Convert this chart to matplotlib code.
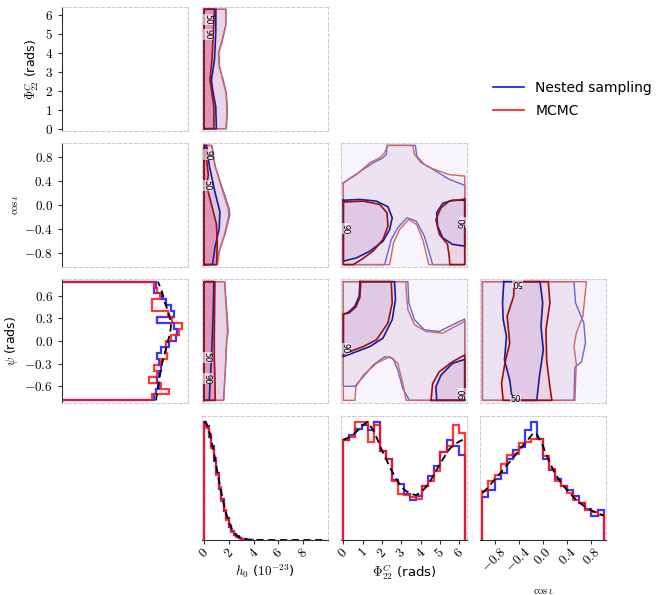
import numpy as np
import matplotlib.pyplot as plt
from matplotlib.lines import Line2D
from matplotlib.ticker import FixedLocator, FuncFormatter

plt.rcParams['mathtext.fontset'] = 'cm'
plt.rcParams['font.family'] = ['DejaVu Sans']

# axis ranges (small padding round the prior ranges)
h0_lim = (-0.16, 10.0)
phi_lim = (-0.12, 6.40)
cos_lim = (-1.04, 1.04)
psi_lim = (-0.82, 0.82)

h0_ticks = [0, 2, 4, 6, 8]
phi_ticks = [0, 1, 2, 3, 4, 5, 6]
cos_ticks = [-0.8, -0.4, 0.0, 0.4, 0.8]
psi_ticks = [-0.6, -0.3, 0.0, 0.3, 0.6]

# ---- 1D marginals (arbitrary density units) ----
h0_edges = np.linspace(0.0, 4.0, 21)
h0_blue = [350, 338, 305, 280, 233, 200, 152, 122, 85, 64, 40, 28, 16, 11, 6, 3, 2, 1, 0.5, 0.2]
h0_red = [346, 333, 313, 272, 242, 193, 158, 116, 90, 60, 44, 25, 18, 10, 6.5, 4, 1.5, 1, 0.4, 0.3]
h0_line_x = [0, 0.25, 0.5, 0.75, 1.0, 1.25, 1.5, 1.75, 2.0, 2.25, 2.5, 2.75, 3.0, 3.5, 4.0, 5, 6, 7, 8, 9, 9.9]
h0_line_y = [352, 342, 312, 268, 218, 168, 122, 83, 54, 33, 19, 10, 5.5, 1.5, 0.4, 0, 0, 0, 0, 0, 0]

phi_edges = np.linspace(0.0, 2 * np.pi, 21)
phi_blue = [297, 310, 330, 340, 325, 350, 265, 240, 177, 167, 137, 120, 130, 160, 190, 220, 260, 295, 280, 252]
phi_red = [297, 305, 350, 350, 290, 340, 265, 240, 175, 135, 132, 127, 122, 160, 175, 205, 260, 278, 340, 317]
phi_line_x = [0, 0.25, 0.5, 0.75, 1.0, 1.25, 1.5, 1.75, 2.0, 2.25, 2.5, 2.75, 3.0, 3.25, 3.5, 3.75,
              4.0, 4.25, 4.5, 4.75, 5.0, 5.25, 5.5, 5.75, 6.0, 6.283]
phi_line_y = [297, 303, 312, 325, 340, 350, 330, 300, 265, 235, 205, 180, 157, 145, 137, 133,
              140, 155, 175, 200, 225, 248, 270, 283, 292, 300]

cos_edges = np.linspace(-1.0, 1.0, 21)
cos_blue = [127, 148, 182, 200, 240, 268, 277, 327, 352, 300, 240, 208, 182, 160, 150, 132, 110, 92, 73, 90]
cos_red = [145, 177, 195, 228, 252, 255, 290, 292, 300, 300, 250, 212, 175, 160, 140, 120, 110, 90, 82, 75]
cos_line_x = [-1, -0.9, -0.8, -0.7, -0.6, -0.5, -0.4, -0.3, -0.2, -0.15, -0.1, 0, 0.1, 0.2, 0.3,
              0.4, 0.5, 0.6, 0.7, 0.8, 0.9, 1.0]
cos_line_y = [140, 158, 180, 200, 222, 243, 266, 288, 310, 320, 315, 280, 235, 198, 170,
              148, 128, 112, 98, 88, 80, 73]

psi_edges = np.linspace(-np.pi / 4, np.pi / 4, 21)
psi_blue = [92, 94, 97, 95, 97, 99, 97, 95, 99, 107, 114, 115, 112, 95, 112, 109, 104, 100, 92, 94]
psi_red = [90, 107, 99, 87, 95, 92, 99, 105, 104, 104, 109, 117, 120, 110, 106, 90, 90, 98, 95, 92]
psi_line_x = [94, 96, 98, 100, 103, 106, 108, 109, 108, 106, 103, 100, 96]
psi_line_y = [-0.785, -0.6, -0.45, -0.3, -0.15, 0, 0.1, 0.2, 0.3, 0.4, 0.5, 0.65, 0.785]

# ---- 2D credible contours (90% outer, 50% inner) ----
# h0 panels: h0 value of the contour edge along the other parameter
hp_out_phi = [0, 0.97, 1.86, 2.57, 3.28, 4.0, 4.53, 5.42, 6.283]
hp_blue_out = [1.81, 1.89, 1.81, 1.55, 1.23, 1.17, 1.41, 1.76, 1.76]
hp_red_out = [1.78, 1.85, 1.78, 1.5, 1.25, 1.2, 1.45, 1.75, 1.78]
hp_in_phi = [0, 1.15, 2.04, 2.57, 3.64, 5.06, 6.283]
hp_blue_in = [1.0, 0.95, 0.7, 0.6, 0.85, 0.95, 0.96]
hp_red_in = [0.8, 0.8, 0.6, 0.48, 0.65, 0.75, 0.85]

hc_out_cos = [-1, -0.77, -0.5, -0.17, -0.06, 0.33, 0.66, 1.0]
hc_blue_out = [1.05, 1.23, 1.68, 2.08, 2.03, 1.41, 0.88, 0.61]
hc_red_out = [1.1, 1.25, 1.65, 2.0, 1.95, 1.35, 0.9, 0.65]
hc_blue_in_cos = [-1, -0.72, -0.39, -0.11, 0.22, 0.66, 1.0]
hc_blue_in = [0.69, 0.88, 1.23, 1.28, 0.88, 0.43, 0.21]
hc_red_in_cos = [-1, -0.66, -0.33, -0.11, 0.11, 0.33, 0.5, 0.66, 1.0]
hc_red_in = [1.01, 1.07, 1.01, 0.75, 0.48, 0.21, 0.35, 0.27, 0.08]

hs_out_psi = [-0.785, -0.37, 0.0, 0.13, 0.46, 0.785]
hs_blue_out = [1.57, 1.73, 1.84, 1.95, 1.81, 1.68]
hs_red_out = [1.6, 1.72, 1.82, 1.9, 1.78, 1.65]
hs_in_psi = [-0.785, -0.5, -0.2, 0.06, 0.41, 0.785]
hs_blue_in = [0.43, 0.51, 0.61, 0.67, 0.75, 0.8]
hs_red_in = [0.91, 0.88, 0.83, 0.83, 0.85, 0.88]

# phi - cos(iota) panel
pc_blue_out_x = [0, 0.51, 1.03, 1.54, 1.97, 2.23, 2.26, 3.73, 3.80, 4.19, 4.79, 5.48, 6.283, 6.283,
                 4.62, 4.45, 4.19, 3.77, 3.29, 2.82, 2.48, 2.14, 0, 0]
pc_blue_out_y = [0.373, 0.485, 0.596, 0.709, 0.776, 0.849, 1.0, 1.0, 0.82, 0.68, 0.57, 0.43, 0.33, -1,
                 -1, -0.80, -0.52, -0.27, -0.215, -0.38, -0.58, -1, -1, 0.373]
pc_red_out_x = [0, 0.68, 1.37, 1.88, 2.14, 2.3, 3.6, 3.68, 4.02, 4.62, 5.48, 6.283, 6.283,
                4.42, 4.28, 4.11, 3.80, 3.39, 2.91, 2.60, 2.40, 0, 0]
pc_red_out_y = [0.37, 0.51, 0.71, 0.79, 0.88, 1.0, 1.0, 0.85, 0.71, 0.61, 0.51, 0.485, -1,
                -1, -0.80, -0.58, -0.33, -0.24, -0.41, -0.635, -1, -1, 0.37]
pc_blue_in1_x = [0, 0.86, 1.71, 2.31, 2.53, 2.40, 2.05, 1.37, 0.68, 0, 0]
pc_blue_in1_y = [0.08, 0.093, 0.065, -0.03, -0.215, -0.41, -0.61, -0.775, -0.887, -0.943, 0.08]
pc_red_in1_x = [0, 1.03, 1.88, 2.26, 2.31, 2.05, 1.54, 0.94, 0.51, 0, 0]
pc_red_in1_y = [0.05, 0.065, 0.01, -0.13, -0.355, -0.58, -0.775, -0.915, -1, -1, 0.05]
pc_blue_in2_x = [6.283, 5.65, 5.14, 4.83, 4.88, 5.14, 5.65, 6.283, 6.283]
pc_blue_in2_y = [0.08, 0.08, 0.026, -0.13, -0.355, -0.55, -0.66, -0.69, 0.08]
pc_red_in2_x = [6.283, 5.48, 5.05, 4.79, 4.97, 5.39, 5.48, 5.51, 6.283, 6.283]
pc_red_in2_y = [0.10, 0.065, -0.05, -0.245, -0.495, -0.66, -0.86, -1, -1, 0.10]

# phi - psi panel
pp_blue_out_x = [0, 3.34, 3.39, 3.68, 4.19, 4.96, 5.65, 6.283, 6.283, 3.42, 3.08, 2.82, 2.57, 2.14,
                 1.54, 1.03, 0.6, 0, 0]
pp_blue_out_y = [0.785, 0.785, 0.505, 0.282, 0.149, 0.126, 0.215, 0.291, -0.785, -0.785, -0.63,
                 -0.385, -0.23, -0.207, -0.319, -0.474, -0.599, -0.599, 0.785]
pp_red_out_x = [0, 3.22, 3.34, 3.68, 4.28, 5.14, 6.283, 6.283, 3.25, 3.08, 2.82, 2.40, 1.71, 1.03,
                0.65, 0.6, 0, 0]
pp_red_out_y = [0.785, 0.785, 0.416, 0.215, 0.126, 0.104, 0.26, -0.785, -0.785, -0.563, -0.296,
                -0.207, -0.296, -0.452, -0.608, -0.785, -0.785, 0.785]
pp_blue_in1_x = [0.86, 0.82, 0.6, 0.26, 0, 0, 0.68, 1.37, 2.05, 2.53, 2.70, 2.65, 0.86]
pp_blue_in1_y = [0.785, 0.594, 0.46, 0.38, 0.349, -0.207, -0.141, -0.074, 0.037, 0.282, 0.549, 0.785, 0.785]
pp_red_in1_x = [0.9, 0.86, 0.65, 0.3, 0, 0, 1.03, 1.71, 2.31, 2.53, 2.48, 0.9]
pp_red_in1_y = [0.785, 0.58, 0.45, 0.37, 0.36, -0.172, -0.074, 0.015, 0.238, 0.505, 0.785, 0.785]
pp_blue_in2_x = [4.83, 4.79, 5.05, 5.65, 6.283, 6.283, 4.83]
pp_blue_in2_y = [-0.785, -0.608, -0.452, -0.296, -0.243, -0.785, -0.785]
pp_red_in2_x = [4.54, 4.62, 4.96, 5.65, 6.283, 6.283, 4.54]
pp_red_in2_y = [-0.785, -0.563, -0.408, -0.274, -0.185, -0.785, -0.785]

# cos(iota) - psi panel
cp_blue_out_x = [-1, 0.511, 0.538, 0.674, 0.701, 0.636, 0.527, 0.511, -1, -1]
cp_blue_out_y = [0.785, 0.785, 0.505, 0.238, -0.029, -0.274, -0.35, -0.785, -0.785, 0.785]
cp_red_out_x = [-1, 0.717, 0.658, 0.549, 0.511, 0.549, 0.527, -1, -1]
cp_red_out_y = [0.785, 0.785, 0.327, 0.104, -0.074, -0.296, -0.785, -0.785, 0.785]
cp_blue_in_x = [-0.647, -0.668, -0.657, -0.603, -0.636, -0.549, -0.505, -0.103, -0.06, 0.005,
                -0.033, -0.005, -0.049, -0.647]
cp_blue_in_y = [0.785, 0.505, 0.282, 0.06, -0.252, -0.519, -0.785, -0.785, -0.474, -0.118,
                0.193, 0.505, 0.785, 0.785]
cp_red_in_x = [-0.478, -0.484, -0.592, -0.549, -0.630, -0.685, -0.658, 0.147, 0.114, 0.06,
               0.049, 0.114, 0.087, -0.478]
cp_red_in_y = [0.785, 0.594, 0.327, -0.029, -0.296, -0.563, -0.785, -0.785, -0.608, -0.252,
               0.149, 0.505, 0.785, 0.785]

BLUE, RED = '#1414ff', '#ff1414'
BLUE_DARK, BLUE_LIGHT = '#1c1c98', '#6868cc'
RED_DARK, RED_LIGHT = '#9a1010', '#cc6868'
FILL_BLUE, FILL_RED = '#5058e8', '#e8305a'

fig = plt.figure(figsize=(6.59, 5.95), dpi=100)
col_px = [62, 202, 341, 480]
row_px = [7, 143, 279, 416]
W, H = 126, 124


def make_ax(r, c):
    return fig.add_axes([col_px[c] / 659, 1 - (row_px[r] + H) / 595, W / 659, H / 595])


def style(ax, left=False, bottom=False):
    for side, sp in ax.spines.items():
        if (side == 'left' and left) or (side == 'bottom' and bottom):
            sp.set_color('#333333')
            sp.set_linewidth(0.8)
        else:
            sp.set_color('#cfcfcf')
            sp.set_linewidth(0.8)
            sp.set_linestyle((0, (3, 2)))
    ax.tick_params(left=left, labelleft=left, bottom=bottom, labelbottom=bottom,
                   direction='out', length=3, width=0.8, color='#333333', labelsize=9.5)


def math_ticks(axis, ticks, fmt):
    axis.set_major_locator(FixedLocator(ticks))
    axis.set_major_formatter(FuncFormatter(lambda v, p: '$' + fmt.format(v) + '$'))


def edge_polygon(xs, ys):
    # contour touching the h0 = 0 edge
    return [0.0] + list(xs) + [0.0, 0.0], [ys[0]] + list(ys) + [ys[-1], ys[0]]


def draw_2d(ax, blue_out, red_out, blue_in, red_in, strong):
    if strong:
        a_out, a_in_b, a_in_r = 0.12, 0.10, 0.32
    else:
        a_out, a_in_b, a_in_r = 0.05, 0.08, 0.08
        ax.set_facecolor('#f7f4fb')
    ax.fill(*blue_out, color=FILL_BLUE, alpha=a_out, lw=0)
    ax.fill(*red_out, color=FILL_RED, alpha=a_out, lw=0)
    for x, y in blue_in:
        ax.fill(x, y, color=FILL_BLUE, alpha=a_in_b, lw=0)
    for x, y in red_in:
        ax.fill(x, y, color=FILL_RED, alpha=a_in_r, lw=0)
    ax.plot(*blue_out, color=BLUE_LIGHT, lw=1.0)
    ax.plot(*red_out, color=RED_LIGHT, lw=1.0)
    for x, y in blue_in:
        ax.plot(x, y, color=BLUE_DARK, lw=1.2)
    for x, y in red_in:
        ax.plot(x, y, color=RED_DARK, lw=1.2)


def clabel(ax, x, y, s, rot):
    ax.text(x, y, s, fontsize=6, rotation=rot, ha='center', va='center', color='black',
            bbox=dict(facecolor='white', edgecolor='none', alpha=0.6, pad=0.2))


# ---- first column: psi marginal and tick-only frames ----
for r, (lim, ticks, fmt, label, size) in enumerate([
        (phi_lim, phi_ticks, '{:.0f}', r'$\Phi^C_{22}$ (rads)', 9),
        (cos_lim, cos_ticks, '{:.1f}', r'$\cos{\iota}$', 7.5),
        (psi_lim, psi_ticks, '{:.1f}', r'$\psi$ (rads)', 9)]):
    ax = make_ax(r, 0)
    style(ax, left=True)
    ax.set_ylim(*lim)
    math_ticks(ax.yaxis, ticks, fmt)
    ax.set_ylabel(label, fontsize=size, labelpad=3)
    if r == 2:
        ax.stairs(psi_blue, psi_edges, orientation='horizontal', baseline=0,
                  color=BLUE, lw=1.6, alpha=0.85)
        ax.stairs(psi_red, psi_edges, orientation='horizontal', baseline=0,
                  color=RED, lw=1.6, alpha=0.85)
        ax.plot(psi_line_x, psi_line_y, color='black', lw=1.3, ls=(0, (4, 2.5)))
        ax.set_xlim(0, 1.05 * max(max(psi_blue), max(psi_red)))

# ---- bottom row marginals ----
for c, (edges, hb, hr, lx, ly, lim, ticks, fmt, label, size, pad) in enumerate([
        (h0_edges, h0_blue, h0_red, h0_line_x, h0_line_y, h0_lim, h0_ticks, '{:.0f}',
         r'$h_0$ ($10^{-23}$)', 9.5, 1),
        (phi_edges, phi_blue, phi_red, phi_line_x, phi_line_y, phi_lim, phi_ticks, '{:.0f}',
         r'$\Phi^C_{22}$ (rads)', 9.5, 1),
        (cos_edges, cos_blue, cos_red, cos_line_x, cos_line_y, cos_lim, cos_ticks, '{:.1f}',
         r'$\cos{\iota}$', 7.5, 8)], start=1):
    ax = make_ax(3, c)
    style(ax, bottom=True)
    ax.stairs(hb, edges, baseline=0, color=BLUE, lw=1.6, alpha=0.85)
    ax.stairs(hr, edges, baseline=0, color=RED, lw=1.6, alpha=0.85)
    ax.plot(lx, ly, color='black', lw=1.3, ls=(0, (4, 2.5)))
    ax.set_xlim(*lim)
    ax.set_ylim(0, 1.05 * max(max(hb), max(hr)))
    math_ticks(ax.xaxis, ticks, fmt)
    ax.tick_params(axis='x', labelrotation=45, pad=1)
    ax.set_xlabel(label, fontsize=size, labelpad=pad)

# ---- 2D panels ----
ax = make_ax(0, 1)
style(ax)
ax.set_xlim(*h0_lim)
ax.set_ylim(*phi_lim)
draw_2d(ax, edge_polygon(hp_blue_out, hp_out_phi), edge_polygon(hp_red_out, hp_out_phi),
        [edge_polygon(hp_blue_in, hp_in_phi)], [edge_polygon(hp_red_in, hp_in_phi)], True)
clabel(ax, 0.32, 5.75, '50', -90)
clabel(ax, 0.32, 4.95, '90', -90)

ax = make_ax(1, 1)
style(ax)
ax.set_xlim(*h0_lim)
ax.set_ylim(*cos_lim)
draw_2d(ax, edge_polygon(hc_blue_out, hc_out_cos), edge_polygon(hc_red_out, hc_out_cos),
        [edge_polygon(hc_blue_in, hc_blue_in_cos)], [edge_polygon(hc_red_in, hc_red_in_cos)], True)
clabel(ax, 0.3, 0.84, '90', -90)
clabel(ax, 0.25, 0.33, '50', -90)

ax = make_ax(2, 1)
style(ax)
ax.set_xlim(*h0_lim)
ax.set_ylim(*psi_lim)
draw_2d(ax, edge_polygon(hs_blue_out, hs_out_psi), edge_polygon(hs_red_out, hs_out_psi),
        [edge_polygon(hs_blue_in, hs_in_psi)], [edge_polygon(hs_red_in, hs_in_psi)], True)
clabel(ax, 0.25, -0.22, '50', -90)
clabel(ax, 0.25, -0.5, '90', -90)

ax = make_ax(1, 2)
style(ax)
ax.set_xlim(*phi_lim)
ax.set_ylim(*cos_lim)
draw_2d(ax, (pc_blue_out_x, pc_blue_out_y), (pc_red_out_x, pc_red_out_y),
        [(pc_blue_in1_x, pc_blue_in1_y), (pc_blue_in2_x, pc_blue_in2_y)],
        [(pc_red_in1_x, pc_red_in1_y), (pc_red_in2_x, pc_red_in2_y)], False)
clabel(ax, 0.08, -0.4, '90', -90)
clabel(ax, 6.2, -0.3, '90', 90)

ax = make_ax(2, 2)
style(ax)
ax.set_xlim(*phi_lim)
ax.set_ylim(*psi_lim)
draw_2d(ax, (pp_blue_out_x, pp_blue_out_y), (pp_red_out_x, pp_red_out_y),
        [(pp_blue_in1_x, pp_blue_in1_y), (pp_blue_in2_x, pp_blue_in2_y)],
        [(pp_red_in1_x, pp_red_in1_y), (pp_red_in2_x, pp_red_in2_y)], False)
clabel(ax, 0.08, -0.1, '90', -90)
clabel(ax, 6.2, -0.7, '90', 90)

ax = make_ax(2, 3)
style(ax)
ax.set_xlim(*cos_lim)
ax.set_ylim(*psi_lim)
draw_2d(ax, (cp_blue_out_x, cp_blue_out_y), (cp_red_out_x, cp_red_out_y),
        [(cp_blue_in_x, cp_blue_in_y)], [(cp_red_in_x, cp_red_in_y)], False)
clabel(ax, -0.42, 0.77, '50', 180)
clabel(ax, -0.45, -0.78, '50', 0)

handles = [Line2D([], [], color=BLUE, lw=1.2), Line2D([], [], color=RED, lw=1.2)]
fig.legend(handles, ['Nested sampling', 'MCMC'], loc='upper left',
           bbox_to_anchor=(493 / 659, 1 - 81 / 595), frameon=False, fontsize=10,
           handlelength=2.2, handletextpad=0.85, labelspacing=0.65,
           borderpad=0, borderaxespad=0)

fig.savefig('out.png', dpi=100)
